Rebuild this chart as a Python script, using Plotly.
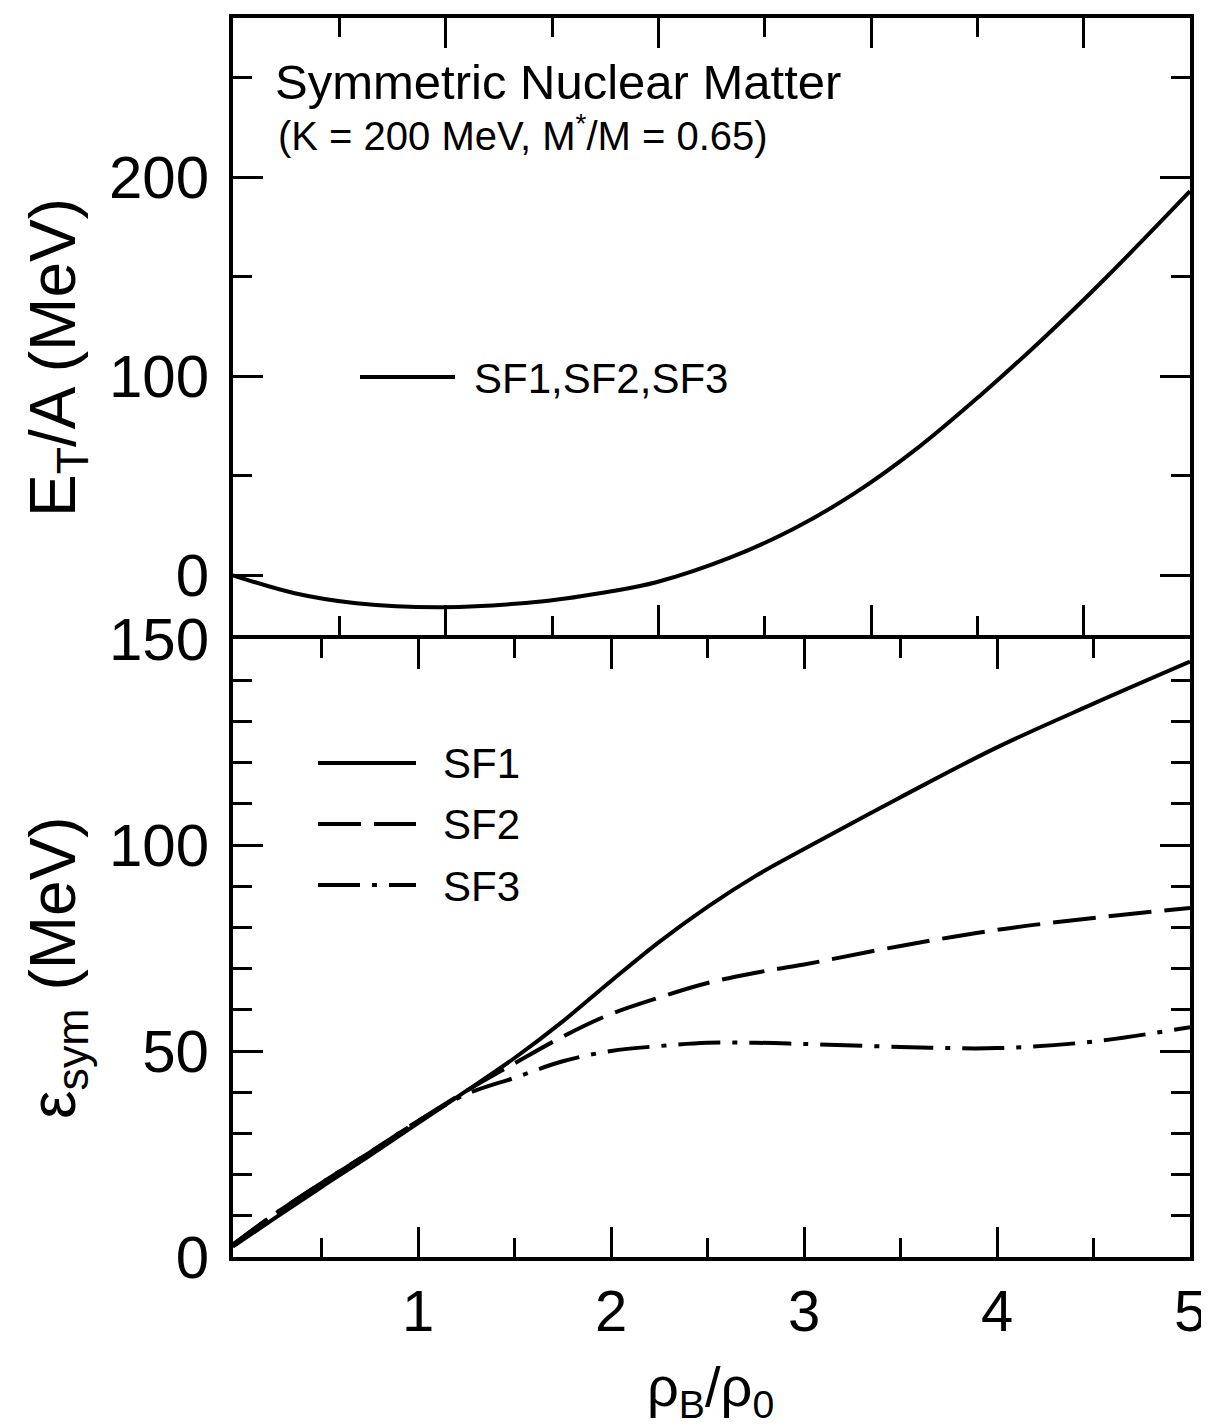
import plotly.graph_objects as go

# ---------------- data ----------------
# Top panel: binding energy per nucleon of symmetric nuclear matter (same for SF1, SF2, SF3)
rho_top = [0.0, 0.29, 0.58, 0.99, 1.46, 1.78, 1.99, 2.34, 2.63, 2.92, 3.22, 3.51, 3.80, 4.10, 4.50]
e_top = [0.0, -9.0, -14.0, -16.0, -13.0, -8.0, -3.5, 9.0, 23.0, 41.0, 64.0, 90.0, 118.0, 149.0, 193.0]

# Bottom panel: symmetry energy
rho_bot = [0.04, 0.25, 0.5, 0.75, 1.0, 1.25, 1.5, 1.75, 2.0, 2.25, 2.5, 2.75, 3.0, 3.5, 4.0, 4.5, 5.0]
esym_sf1 = [2.5, 9.2, 17.0, 24.6, 32.5, 40.3, 48.3, 57.2, 67.0, 76.5, 85.0, 92.5, 99.0, 111.6, 123.7, 134.3, 144.5]
esym_sf2 = [3.0, 10.2, 18.0, 25.4, 33.0, 40.3, 47.0, 53.5, 59.0, 63.0, 66.5, 69.0, 71.0, 75.5, 79.4, 82.3, 84.7]
esym_sf3 = [3.0, 10.2, 18.0, 25.4, 33.0, 39.5, 43.5, 47.5, 50.0, 51.2, 52.0, 52.0, 51.7, 51.0, 50.7, 52.3, 55.8]

series_names = ["SF1", "SF2", "SF3"]
series_dash = ["solid", "43px,13px", "42px,12px,5px,12px"]

FONT = "Liberation Sans, Arial, Helvetica, sans-serif"

# page body has an 8px margin; figure is sized so that it fills the window
OFF = 8
W, H = 1209 - OFF, 1428 - OFF
# target plot-area edges in window pixels
PX_L, PX_R = 233.0, 1190.0
PX_T, PX_B = 18.0, 1257.0
PX_MID = 635.0  # bottom edge of the top panel (axis lines are drawn just outside)
LW = 4

fig = go.Figure()

fig.add_trace(go.Scatter(x=rho_top, y=e_top, mode="lines", line=dict(color="black", width=4, shape="spline"),
                         xaxis="x2", yaxis="y2", showlegend=False))
for name, ys, dash in zip(series_names, [esym_sf1, esym_sf2, esym_sf3], series_dash):
    fig.add_trace(go.Scatter(x=rho_bot, y=ys, mode="lines", name=name,
                             line=dict(color="black", width=4, dash=dash, shape="spline"),
                             xaxis="x", yaxis="y", showlegend=False))

PH = PX_B - PX_T
top_lo = (PX_B - PX_MID) / PH
bot_hi = (PX_B - PX_MID - LW) / PH

common = dict(showgrid=False, zeroline=False, showline=True, linecolor="black", linewidth=LW,
              mirror="ticks", ticks="inside", tickcolor="black", tickwidth=3, ticklen=30, automargin=False)

fig.update_layout(
    template="none",
    width=W, height=H, autosize=False,
    margin=dict(l=PX_L - OFF, r=W - (PX_R - OFF), t=PX_T - OFF, b=H - (PX_B - OFF), pad=0),
    paper_bgcolor="white", plot_bgcolor="white",
    font=dict(family=FONT, color="black"),
    showlegend=False,
    xaxis=dict(domain=[0, 1], anchor="y", range=[0.041, 5.0], tick0=0, dtick=1,
               minor=dict(ticks="inside", ticklen=19, tickwidth=3, tickcolor="black", dtick=0.5, tick0=0),
               tickfont=dict(size=58, family=FONT), ticklabelstandoff=0, **common),
    yaxis=dict(domain=[0, bot_hi], anchor="x", range=[0, 150], tick0=0, dtick=50,
               minor=dict(ticks="inside", ticklen=19, tickwidth=3, tickcolor="black", dtick=10, tick0=0),
               tickfont=dict(size=60, family=FONT), ticklabelstandoff=8, **common),
    xaxis2=dict(domain=[0, 1], anchor="y2", range=[0, 4.5], tick0=0, dtick=1, showticklabels=False,
                minor=dict(ticks="inside", ticklen=19, tickwidth=3, tickcolor="black", dtick=0.5, tick0=0),
                **common),
    yaxis2=dict(domain=[top_lo, 1], anchor="x2", range=[-30, 280], tick0=0, dtick=100,
                minor=dict(ticks="inside", ticklen=19, tickwidth=3, tickcolor="black", dtick=50, tick0=0),
                tickfont=dict(size=60, family=FONT), ticklabelstandoff=8, **common),
)


def px(x):
    return (x - PX_L) / (PX_R - PX_L)


def py(y):
    return (PX_B - y) / PH


annotations = [
    dict(text="Symmetric Nuclear Matter", x=px(273), y=py(82), size=49),
    dict(text="(K = 200 MeV, M<sup>*</sup>/M = 0.65)", x=px(276), y=py(133), size=40),
    dict(text="SF1,SF2,SF3", x=px(472), y=py(378), size=42),
    dict(text="SF1", x=px(441), y=py(763), size=42),
    dict(text="SF2", x=px(441), y=py(824), size=42),
    dict(text="SF3", x=px(441), y=py(886), size=42),
]
for a in annotations:
    fig.add_annotation(text=a["text"], x=a["x"], y=a["y"], xref="paper", yref="paper",
                       xanchor="left", yanchor="middle", showarrow=False,
                       font=dict(size=a["size"], family=FONT, color="black"))

# axis titles
fig.add_annotation(text="E<sub>T</sub>/A (MeV)", x=px(57), y=py(358), xref="paper", yref="paper",
                   textangle=-90, showarrow=False, xanchor="center", yanchor="middle",
                   font=dict(size=64, family=FONT, color="black"))
fig.add_annotation(text="\u03b5<sub>sym</sub> (MeV)", x=px(57), y=py(968), xref="paper", yref="paper",
                   textangle=-90, showarrow=False, xanchor="center", yanchor="middle",
                   font=dict(size=64, family=FONT, color="black"))
fig.add_annotation(text="\u03c1<sub>B</sub>/\u03c1<sub>0</sub>", x=px(710), y=py(1390), xref="paper", yref="paper",
                   showarrow=False, xanchor="center", yanchor="middle",
                   font=dict(size=56, family=FONT, color="black"))

# legend sample lines
legend_lines = [
    (360, 455, 377, "solid"),
    (318, 416, 763, series_dash[0]),
    (318, 416, 824, series_dash[1]),
    (318, 416, 885, series_dash[2]),
]
for x0, x1, yy, dash in legend_lines:
    fig.add_shape(type="line", xref="paper", yref="paper", x0=px(x0), x1=px(x1), y0=py(yy), y1=py(yy),
                  line=dict(color="black", width=4, dash=dash))

fig.write_html("out.html")
